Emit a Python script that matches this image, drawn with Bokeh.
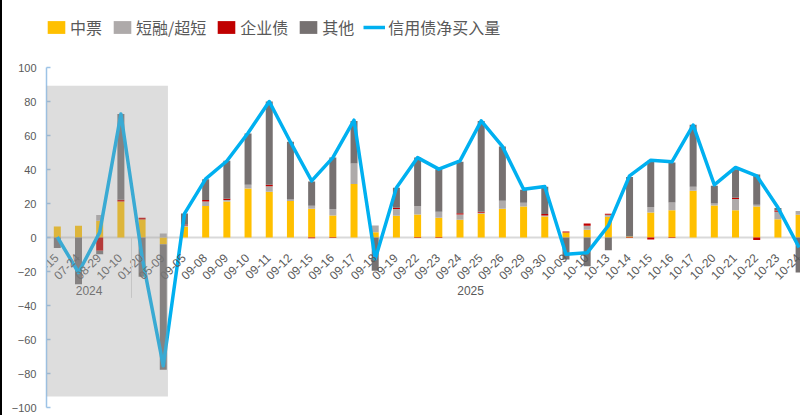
import numpy as np
from bokeh.plotting import figure
from bokeh.models import Range1d, BoxAnnotation, Span, Legend, LegendItem, FixedTicker
from bokeh.core.properties import value
from bokeh.embed import file_html
from bokeh.resources import INLINE

# ---------------- data ----------------
dates = ["04-15", "07-24", "08-29", "10-10", "01-20", "05-09", "09-05", "09-08", "09-09",
         "09-10", "09-11", "09-12", "09-15", "09-16", "09-17", "09-18", "09-19", "09-22",
         "09-23", "09-24", "09-25", "09-26", "09-29", "09-30", "10-09", "10-10", "10-13",
         "10-14", "10-15", "10-16", "10-17", "10-20", "10-21", "10-22", "10-23", "10-24"]
years = ["2024"] * 4 + ["2025"] * 32

mtn = [6.5, 6.9, 9.8, 21.2, 10.6, -3.9, 6.5, 18.5, 21.2, 28.8, 26.9, 21.4, 16.9, 12.9, 31.4, 3.1,
       12.8, 13.5, 11.6, 10.4, 13.9, 16.9, 18.2, 12.4, 2.9, 4.5, 12.2, 0.6, 14.7, 16.1, 27.5, 18.8,
       16.1, 18.2, 10.8, 13.4]
scp = [0, 0, 3.4, 0, 0, 2.4, 0.5, 2.7, 0.8, 2.2, 3.3, 1.0, 1.8, 3.9, 12.2, 3.9,
       3.9, 5.1, 3.5, 3.1, 0.6, 4.7, 2.2, 0.6, 0, 2.4, 1.2, 0, 3.3, 4.5, 2.4, 1.2,
       6.5, 1.0, 4.3, 2.2]
corp = [0, 0, -7.8, 1.0, 1.0, 0, 0.6, 0.8, 0.8, 0, 0.8, 0, -0.5, -0.3, 0, 0,
        0.8, -0.3, -0.3, 0.8, 0.6, 0, 0, 0.8, 0.6, 1.4, 0.6, -0.3, -1.2, -0.3, 0, 0,
        0.8, -1.4, 0.8, 0]
other = [-6.2, -27.5, -2.0, 50.4, -23.1, -73.9, 6.5, 12.3, 22.3, 30.2, 49.0, 33.9, 14.3, 30.2, 25.0, -19.6,
         11.7, 28.5, 25.1, 30.2, 53.5, 31.9, 7.7, 16.0, -12.9, -16.9, -7.5, 35.0, 27.1, 23.5, 36.4, 10.4,
         16.8, 17.9, 1.5, -20.6]
net = [0.3, -20.6, 3.0, 72.6, -11.5, -75.5, 14.0, 34.5, 45.0, 61.5, 80.0, 56.2, 33.3, 47.0, 69.0, -12.7,
       29.2, 47.0, 40.2, 45.1, 68.6, 53.6, 28.4, 30.0, -9.8, -9.0, 7.0, 36.3, 45.5, 44.5, 66.1, 31.0,
       41.2, 36.3, 17.6, -5.9]

series_names = ["中票", "短融/超短", "企业债", "其他"]
series_vals = [mtn, scp, corp, other]
series_colors = ["#FFC000", "#AEAAAA", "#C00000", "#767171"]
line_name = "信用债净买入量"
y_ticks = list(range(-100, 101, 20))

# ---------------- figure ----------------
TXT = "#595959"
x = np.arange(len(dates))
H, BOTTOM_BORDER = 415, 8
px_per_unit = 1.7
y_top = -100 + (H - BOTTOM_BORDER) / px_per_unit   # frame extends to top so the legend is not clipped

p = figure(width=800, height=H, output_backend="svg", toolbar_location=None,
           x_range=Range1d(-0.51, 35.16), y_range=Range1d(-100, y_top),
           x_axis_location=None,
           min_border_left=44, min_border_right=0, min_border_top=0, min_border_bottom=BOTTOM_BORDER)
p.xgrid.visible = False
p.ygrid.visible = False
p.outline_line_color = None
p.background_fill_color = "white"
p.border_fill_color = "white"
p.styles = {"border-left": "2px solid #000000", "box-sizing": "border-box"}

yax = p.yaxis[0]
yax.ticker = FixedTicker(ticks=y_ticks)
yax.bounds = (min(y_ticks), max(y_ticks))
yax.axis_line_color = "#9DC3E6"
yax.axis_line_width = 1.5
yax.major_tick_line_color = "#9DC3E6"
yax.major_tick_line_width = 1.5
yax.major_tick_in = 4
yax.major_tick_out = 0
yax.minor_tick_line_color = None
yax.major_label_text_color = TXT
yax.major_label_text_font = "Liberation Sans"
yax.major_label_text_font_size = "11px"
yax.major_label_standoff = 10

p.add_layout(Span(location=0, dimension="width", line_color="#D9D9D9", line_width=2, level="underlay"))

# stacked bars (positives up, negatives down)
pos_base = np.zeros(len(dates))
neg_base = np.zeros(len(dates))
bar_renderers = []
for name, vals, color in zip(series_names, series_vals, series_colors):
    v = np.array(vals, dtype=float)
    bottom = np.where(v >= 0, pos_base, neg_base)
    top = bottom + v
    pos_base = np.where(v >= 0, top, pos_base)
    neg_base = np.where(v < 0, top, neg_base)
    r = p.vbar(x=x, bottom=bottom, top=top, width=0.33, fill_color=color, line_color=None)
    bar_renderers.append(r)

line_r = p.line(x, net, line_color="#00B0F0", line_width=3.5, line_join="round")

# category labels along zero line
p.text(x=x, y=np.zeros(len(dates)), text=dates, angle=np.pi / 4, text_align="right",
       text_baseline="middle", x_offset=-1, y_offset=18,
       text_font=value("Liberation Sans"), text_font_size="12px", text_color=TXT)

# year group labels and separator
uyears = sorted(set(years))
for yr in uyears:
    idx = [i for i, y in enumerate(years) if y == yr]
    p.text(x=[np.mean(idx)], y=[0], text=[yr], text_align="center", text_baseline="middle",
           y_offset=53, text_font=value("Liberation Sans"), text_font_size="12px", text_color=TXT)
    if idx[0] > 0:
        p.segment(x0=[idx[0] - 0.5], y0=[0], x1=[idx[0] - 0.5], y1=[-35.5],
                  line_color="#D9D9D9", line_width=1)

# shaded history region (overlay)
p.add_layout(BoxAnnotation(left=-0.51, right=5.22, top=89.2, bottom=-93.6,
                           fill_color="#A0A0A0", fill_alpha=0.36, line_color=None))

items = [LegendItem(label=n, renderers=[r]) for n, r in zip(series_names, bar_renderers)]
items.append(LegendItem(label=line_name, renderers=[line_r]))
legend = Legend(items=items, orientation="horizontal", location=(-1, 368),
                padding=0, margin=0, spacing=9, label_standoff=3,
                glyph_width=22, glyph_height=16, label_height=22,
                label_text_font="Noto Sans CJK SC", label_text_font_size="16px",
                label_text_color=TXT, border_line_color=None, background_fill_alpha=0)
p.add_layout(legend)

open("out.html", "w").write(file_html(p, INLINE))
